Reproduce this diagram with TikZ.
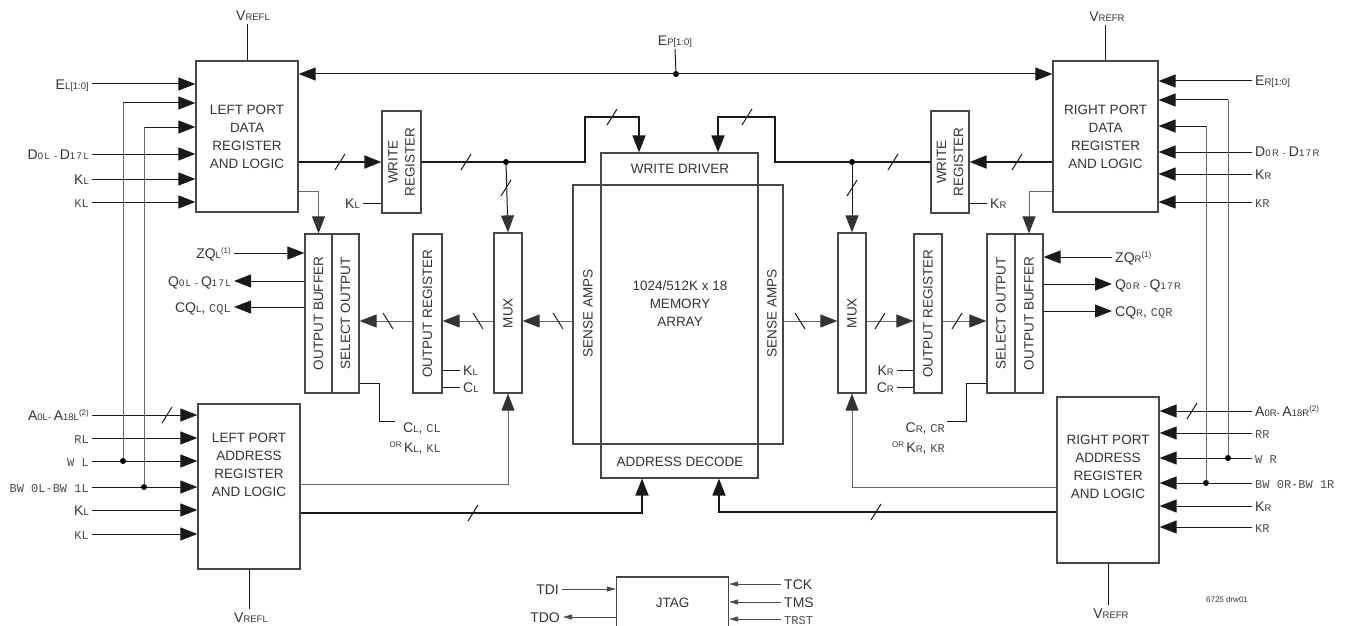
\documentclass[tikz,border=0pt]{standalone}
\usepackage{fontspec}
\setmainfont{Liberation Sans}
\setmonofont{Liberation Mono}
\usetikzlibrary{arrows.meta,calc}
\definecolor{ink}{HTML}{333333}
\definecolor{boxgray}{HTML}{474747}
\newcommand{\lsub}[1]{{\fontsize{9.5}{10}\selectfont #1}}
\newcommand{\ls}{\kern1.5pt}
\newcommand{\mono}[1]{{\ttfamily\fontsize{12}{13}\selectfont\color{black!70}#1}}
\newcommand{\fnote}[1]{\raisebox{5pt}{\fontsize{8}{8}\selectfont(#1)}}
\newcommand{\smallor}{\raisebox{5pt}{\fontsize{8}{8}\selectfont OR}\,}
\newcommand{\cut}[1]{\draw[wire] ($(#1)+(-5,8)$) -- ++(10,-16);}
\newcommand{\rcut}[1]{\draw[wire] ($(#1)+(-5,-8)$) -- ++(10,16);}
\tikzset{
  blk/.style={draw=boxgray, line width=1.2pt, inner sep=0pt, align=center, text=ink, font=\fontsize{13.5}{18}\selectfont},
  txt/.style={inner sep=0pt, align=center, text=ink, font=\fontsize{13.5}{18}\selectfont},
  sig/.style={inner sep=3pt, text=ink, font=\fontsize{14}{15}\selectfont, text height=10pt, text depth=0pt},
  note/.style={inner sep=0pt, align=right, text=ink, font=\fontsize{14}{20}\selectfont},
  wire/.style={line width=1pt, black!90},
  gwire/.style={line width=0.9pt, black!60},
  bus/.style={line width=1.8pt, black!90},
  jwire/.style={line width=0.9pt, black!70},
  tip/.style={-{Triangle[length=17pt,width=13pt]}},
  gtip/.style={-{Triangle[length=17pt,width=13pt,color=black!80]}},
  btip/.style={{Triangle[length=17pt,width=13pt]}-{Triangle[length=17pt,width=13pt]}},
  stip/.style={-{Triangle[length=9pt,width=5pt]}},
  dot/.style={circle, fill=black, inner sep=0pt, minimum size=6pt},
}
\begin{document}
\begin{tikzpicture}[x=1pt,y=-1pt]
			\useasboundingbox (0,0) rectangle (1353,626);
			%%%%% BLOCKS %%%%%
			
			\node[blk, minimum width=102pt, minimum height=151pt] (ldata) at (247,136.5) {LEFT PORT\\DATA\\REGISTER\\AND LOGIC};
			\node[blk, minimum width=105pt, minimum height=151pt] (rdata) at (1105.5,136.5) {RIGHT PORT\\DATA\\REGISTER\\AND LOGIC};
			\node[blk, minimum width=102pt, minimum height=165pt, label={[txt, yshift=21.5pt]center:LEFT PORT\\ADDRESS\\REGISTER\\AND LOGIC}] (laddr) at (249,486.5) {};
			\node[blk, minimum width=102pt, minimum height=166pt, label={[txt, yshift=13pt]center:RIGHT PORT\\ADDRESS\\REGISTER\\AND LOGIC}] (raddr) at (1108,480) {};
			
			\node[blk, minimum width=39pt, minimum height=102pt, label={[txt, rotate=90, font=\fontsize{13.5}{17}\selectfont]center:WRITE\\REGISTER}] (wregL) at (401.5,162) {};
			\node[blk, minimum width=38pt, minimum height=102pt, label={[txt, rotate=90, font=\fontsize{13.5}{17}\selectfont]center:WRITE\\REGISTER}] (wregR) at (950,162) {};
			
			\node[blk, minimum width=27pt, minimum height=159pt, label={[txt, rotate=90]center:OUTPUT BUFFER}] (obufL) at (318.5,313.5) {};
			\node[blk, minimum width=27pt, minimum height=159pt, label={[txt, rotate=90]center:SELECT OUTPUT}] (selL) at (345.5,313.5) {};
			\node[blk, minimum width=29pt, minimum height=159pt, label={[txt, rotate=90]center:OUTPUT REGISTER}] (oregL) at (427.5,313.5) {};
			\node[blk, minimum width=28pt, minimum height=160pt, label={[txt, rotate=90]center:MUX}] (muxL) at (508,313) {};
			
			\node[blk, minimum width=28pt, minimum height=160pt, label={[txt, rotate=90]center:MUX}] (muxR) at (852,313) {};
			\node[blk, minimum width=28pt, minimum height=159pt, label={[txt, rotate=90]center:OUTPUT REGISTER}] (oregR) at (928,313.5) {};
			\node[blk, minimum width=28pt, minimum height=159pt, label={[txt, rotate=90]center:SELECT OUTPUT}] (selR) at (1001,313.5) {};
			\node[blk, minimum width=28pt, minimum height=159pt, label={[txt, rotate=90]center:OUTPUT BUFFER}] (obufR) at (1029,313.5) {};
			
			\node[blk, minimum width=210pt, minimum height=259pt] (core) at (678,314.5) {};
			\node[blk, minimum width=157pt, minimum height=325pt] (drvcol) at (679.5,315.5) {};
			\node[txt] (wdtxt) at (680,169) {WRITE DRIVER};
			\node[txt] (adtxt) at (680,462) {ADDRESS DECODE};
			\node[txt] (memtxt) at (680,304) {1024/512K x 18\\MEMORY\\ARRAY};
			\node[txt, rotate=90] (saL) at (588,313.5) {SENSE AMPS};
			\node[txt, rotate=90] (saR) at (772,313.5) {SENSE AMPS};
			
			\node[blk, minimum width=112pt, minimum height=52pt] (jtag) at (672.5,603) {JTAG};
			
			%%%%% EP BUS %%%%%
			\node[dot] (epj) at (676,74) {};
			\node[sig] (ep) at (675,41) {E\lsub{P[1:0]}};
			\draw[wire] (ep.south) -- (epj);
			\draw[wire, btip] (epj -| ldata.east) -- (epj -| rdata.west);
			
			%%%%% LEFT DATA PORT %%%%%
			\node[sig] (vtL) at (253,16) {V\lsub{REFL}};
			\draw[wire] (ldata.north) -- (ldata.north |- vtL.south);
			
			\node[sig, anchor=east] (eL) at (92,84) {E\lsub{L[1:0]}};
			\node[sig, anchor=east] (dL) at (92,154) {D\lsub{0\ls L\ls\ -\ }D\lsub{1\ls 7\ls L}};
			\node[sig, anchor=east] (kL) at (92,179) {K\lsub{L}};
			\node[sig, anchor=east] (kbL) at (92,202) {\mono{KL}};
			\coordinate (wtL) at (123,103);
			\coordinate (btL) at (144,127);
			\draw[wire, tip] (eL.east) -- (eL.east -| ldata.west);
			\draw[wire, tip] (wtL) -- (wtL -| ldata.west);
			\draw[wire, tip] (btL) -- (btL -| ldata.west);
			\draw[wire, tip] (dL.east) -- (dL.east -| ldata.west);
			\draw[wire, tip] (kL.east) -- (kL.east -| ldata.west);
			\draw[wire, tip] (kbL.east) -- (kbL.east -| ldata.west);
			
			\draw[bus, tip] (wregL.west -| ldata.east) -- (wregL.west);
			\cut{340,162}
			\node[sig, anchor=east] (kwL) at (363,203) {K\lsub{L}};
			\draw[wire] (kwL.east) -- (kwL.east -| wregL.west);
			
			\draw[bus, tip] (wregL.east) -| (585,117) -| ([xshift=-40.5pt]drvcol.north);
			\cut{466,162}
			\cut{612,117}
			\node[dot] (jL) at (506,162) {};
			\draw[wire, gtip] (jL) -- (muxL.north);
			\cut{506,188}
			
			\draw[gwire, gtip] (ldata.east |- 0,191) -| (obufL.north);
			
			%%%%% LEFT OUTPUT %%%%%
			\node[sig, anchor=east] (zqL) at (234,253) {ZQ\lsub{L}\fnote{1}};
			\node[sig, anchor=east] (qL) at (234,281) {Q\lsub{0\ls L\ls\ -\ }Q\lsub{1\ls 7\ls L}};
			\node[sig, anchor=east] (cqL) at (234,307) {CQ\lsub{L}, \mono{CQL}};
			\draw[wire, tip] (zqL.east) -- (zqL.east -| obufL.west);
			\draw[wire, tip] (qL.east -| obufL.west) -- (qL.east);
			\draw[wire, tip] (cqL.east -| obufL.west) -- (cqL.east);
			
			\draw[gwire, gtip] (core.west |- 0,321) -- (muxL.east |- 0,321);
			\rcut{558,321}
			\draw[gwire, gtip] (muxL.west |- 0,321) -- (oregL.east |- 0,321);
			\rcut{478,321}
			\draw[gwire, gtip] (oregL.west |- 0,321) -- (selL.east |- 0,321);
			\rcut{388,321}
			
			\node[sig, anchor=west] (kcL) at (460,370) {K\lsub{L}};
			\node[sig, anchor=west] (ccL) at (460,387) {C\lsub{L}};
			\draw[wire] (kcL.west -| oregL.east) -- (kcL.west);
			\draw[wire] (ccL.west -| oregL.east) -- (ccL.west);
			
			\coordinate (csL) at (395,421);
			\draw[wire] (selL.east |- 0,383) -| (379,421) -- (csL);
			\node[note, anchor=north east] (clkL) at (441,423) {C\lsub{L}, \mono{CL}\\\smallor K\lsub{L}, \mono{KL}};
			
			%%%%% LEFT ADDRESS PORT %%%%%
			\node[sig, anchor=east] (aL) at (92,415) {A\lsub{0L- }A\lsub{18L}\fnote{2}};
			\node[sig, anchor=east] (rL) at (92,438) {\mono{RL}};
			\node[sig, anchor=east] (wL) at (92,461) {\mono{W L}};
			\node[sig, anchor=east] (bwL) at (92,487) {\mono{BW 0L-BW 1L}};
			\node[sig, anchor=east] (k2L) at (92,510) {K\lsub{L}};
			\node[sig, anchor=east] (kb2L) at (92,534) {\mono{KL}};
			\draw[wire, tip] (aL.east) -- (aL.east -| laddr.west);
			\cut{167,415}
			\draw[wire, tip] (rL.east) -- (rL.east -| laddr.west);
			\draw[wire, tip] (wL.east) -- (wL.east -| laddr.west);
			\draw[wire, tip] (bwL.east) -- (bwL.east -| laddr.west);
			\draw[wire, tip] (k2L.east) -- (k2L.east -| laddr.west);
			\draw[wire, tip] (kb2L.east) -- (kb2L.east -| laddr.west);
			\node[dot] (wjL) at (123,461) {};
			\node[dot] (bjL) at (144,487) {};
			\draw[gwire] (wjL) -- (wtL);
			\draw[gwire] (bjL) -- (btL);
			
			\draw[gwire, gtip] (laddr.east |- 0,484) -| (muxL.south);
			\draw[bus, tip] (laddr.east |- 0,513) -| ([xshift=-37.5pt]drvcol.south);
			\cut{473,513}
			
			\node[sig] (vbL) at (251,617) {V\lsub{REFL}};
			\draw[wire] (laddr.south) -- (laddr.south |- vbL.north);
			
			%%%%% RIGHT DATA PORT %%%%%
			\node[sig] (vtR) at (1107,17) {V\lsub{REFR}};
			\draw[wire] (rdata.north) -- (rdata.north |- vtR.south);
			
			\node[sig, anchor=west] (eR) at (1252,81) {E\lsub{R[1:0]}};
			\node[sig, anchor=west] (dR) at (1252,152) {D\lsub{0\ls R\ls\ -\ }D\lsub{1\ls 7\ls R}};
			\node[sig, anchor=west] (kR) at (1252,174) {K\lsub{R}};
			\node[sig, anchor=west] (kbR) at (1252,202) {\mono{KR}};
			\coordinate (wtR) at (1228,100);
			\coordinate (btR) at (1206,126);
			\draw[wire, tip] (eR.west) -- (eR.west -| rdata.east);
			\draw[wire, tip] (wtR) -- (wtR -| rdata.east);
			\draw[wire, tip] (btR) -- (btR -| rdata.east);
			\draw[wire, tip] (dR.west) -- (dR.west -| rdata.east);
			\draw[wire, tip] (kR.west) -- (kR.west -| rdata.east);
			\draw[wire, tip] (kbR.west) -- (kbR.west -| rdata.east);
			
			\draw[bus, tip] (wregR.east -| rdata.west) -- (wregR.east);
			\cut{1017,162}
			\node[sig, anchor=west] (kwR) at (987,203) {K\lsub{R}};
			\draw[wire] (kwR.west) -- (kwR.west -| wregR.east);
			
			\draw[bus, tip] (wregR.west) -| (775,117) -| ([xshift=38.5pt]drvcol.north);
			\cut{893,162}
			\cut{747,117}
			\node[dot] (jR) at (852,162) {};
			\draw[wire, gtip] (jR) -- (muxR.north);
			\cut{852,188}
			
			\draw[gwire, gtip] (rdata.west |- 0,191) -| (obufR.north);
			
			%%%%% RIGHT OUTPUT %%%%%
			\node[sig, anchor=west] (zqR) at (1112,257) {ZQ\lsub{R}\fnote{1}};
			\node[sig, anchor=west] (qR) at (1112,284) {Q\lsub{0\ls R\ls\ -\ }Q\lsub{1\ls 7\ls R}};
			\node[sig, anchor=west] (cqR) at (1112,311) {CQ\lsub{R}, \mono{CQR}};
			\draw[wire, tip] (zqR.west) -- (zqR.west -| obufR.east);
			\draw[wire, tip] (qR.west -| obufR.east) -- (qR.west);
			\draw[wire, tip] (cqR.west -| obufR.east) -- (cqR.west);
			
			\draw[gwire, gtip] (core.east |- 0,321) -- (muxR.west |- 0,321);
			\rcut{800,321}
			\draw[gwire, gtip] (muxR.east |- 0,321) -- (oregR.west |- 0,321);
			\cut{880,321}
			\draw[gwire, gtip] (oregR.east |- 0,321) -- (selR.west |- 0,321);
			\cut{957,321}
			
			\node[sig, anchor=east] (kcR) at (897,370) {K\lsub{R}};
			\node[sig, anchor=east] (ccR) at (897,387) {C\lsub{R}};
			\draw[wire] (kcR.east -| oregR.west) -- (kcR.east);
			\draw[wire] (ccR.east -| oregR.west) -- (ccR.east);
			
			\coordinate (csR) at (947,421);
			\draw[wire] (selR.west |- 0,383) -| (966,421) -- (csR);
			\node[note, anchor=north east] (clkR) at (945,423) {C\lsub{R}, \mono{CR}\\\smallor K\lsub{R}, \mono{KR}};
			
			%%%%% RIGHT ADDRESS PORT %%%%%
			\node[sig, anchor=west] (aR) at (1252,411) {A\lsub{0R- }A\lsub{18R}\fnote{2}};
			\node[sig, anchor=west] (rR) at (1252,433) {\mono{RR}};
			\node[sig, anchor=west] (wR) at (1252,458) {\mono{W R}};
			\node[sig, anchor=west] (bwR) at (1252,483) {\mono{BW 0R-BW 1R}};
			\node[sig, anchor=west] (k2R) at (1252,506) {K\lsub{R}};
			\node[sig, anchor=west] (kb2R) at (1252,527) {\mono{KR}};
			\draw[wire, tip] (aR.west) -- (aR.west -| raddr.east);
			\cut{1192,411}
			\draw[wire, tip] (rR.west) -- (rR.west -| raddr.east);
			\draw[wire, tip] (wR.west) -- (wR.west -| raddr.east);
			\draw[wire, tip] (bwR.west) -- (bwR.west -| raddr.east);
			\draw[wire, tip] (k2R.west) -- (k2R.west -| raddr.east);
			\draw[wire, tip] (kb2R.west) -- (kb2R.west -| raddr.east);
			\node[dot] (wjR) at (1228,458) {};
			\node[dot] (bjR) at (1206,483) {};
			\draw[gwire] (wjR) -- (wtR);
			\draw[gwire] (bjR) -- (btR);
			
			\draw[gwire, gtip] (raddr.west |- 0,487) -| (muxR.south);
			\draw[bus, tip] (raddr.west |- 0,512) -| ([xshift=39.5pt]drvcol.south);
			\cut{876,512}
			
			\node[sig] (vbR) at (1111,613) {V\lsub{REFR}};
			\draw[wire] (raddr.south) -- (raddr.south |- vbR.north);
			
			\node[inner sep=0pt, text=ink, font=\fontsize{8}{9}\selectfont] (drw) at (1227,600) {6725 drw01};
			
			%%%%% JTAG %%%%%
			\node[sig, anchor=east] (tdi) at (562,589) {TDI};
			\node[sig, anchor=east] (tdo) at (563,617) {TDO};
			\node[sig, anchor=west] (tck) at (781,584) {TCK};
			\node[sig, anchor=west] (tms) at (781,602) {TMS};
			\node[sig, anchor=west] (trst) at (781,619) {\mono{TRST}};
			\draw[jwire, stip] (tdi.east) -- (tdi.east -| jtag.west);
			\draw[jwire, stip] (tdo.east -| jtag.west) -- (tdo.east);
			\draw[jwire, stip] (tck.west) -- (tck.west -| jtag.east);
			\draw[jwire, stip] (tms.west) -- (tms.west -| jtag.east);
			\draw[jwire, stip] (trst.west) -- (trst.west -| jtag.east);
			
			%%%%% END %%%%%
		\end{tikzpicture}
\end{document}
